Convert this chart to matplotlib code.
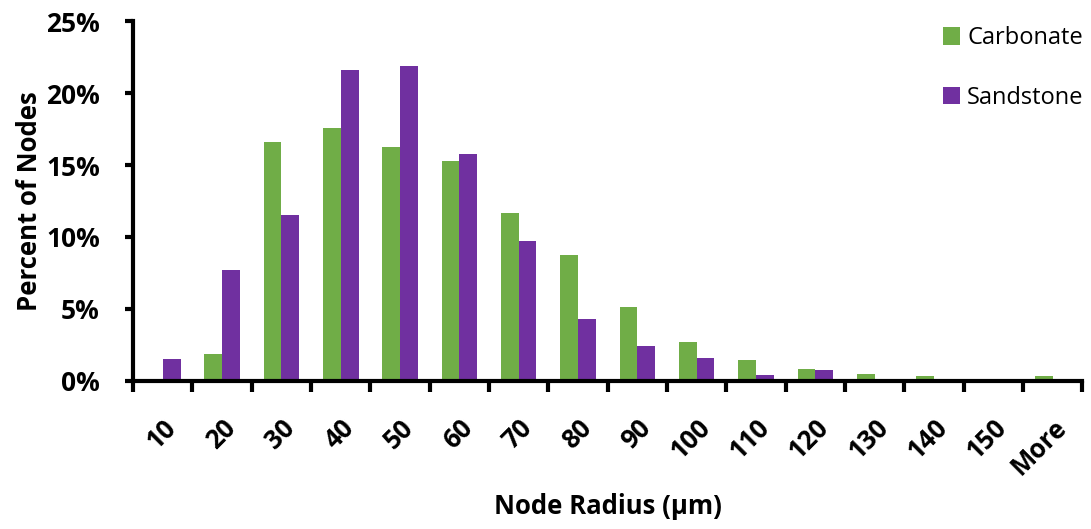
import numpy as np
import matplotlib.pyplot as plt
from matplotlib.ticker import FuncFormatter
from matplotlib.transforms import ScaledTranslation

plt.rcParams['font.family'] = ['Open Sans', 'DejaVu Sans']

# data (percent of nodes per radius bin)
bins = ['10', '20', '30', '40', '50', '60', '70', '80', '90', '100',
        '110', '120', '130', '140', '150', 'More']
carbonate = [0.0, 1.9, 16.6, 17.6, 16.25, 15.3, 11.7, 8.75, 5.1, 2.7,
             1.45, 0.85, 0.48, 0.33, 0.14, 0.33]
sandstone = [1.5, 7.7, 11.5, 21.6, 21.9, 15.8, 9.7, 4.3, 2.4, 1.6,
             0.4, 0.76, 0.14, 0.05, 0.03, 0.14]

green = '#70AD47'
purple = '#7030A0'

fig = plt.figure(figsize=(10.91, 5.29), dpi=100)
ax = fig.add_axes([0.122, 0.280, 0.870, 0.680])

x = np.arange(len(bins))
w = 0.30
ax.bar(x - w / 2, carbonate, w, color=green, label='Carbonate')
ax.bar(x + w / 2, sandstone, w, color=purple, label='Sandstone')

ax.set_xlim(-0.5, len(bins) - 0.5)
ax.set_ylim(0, 25)
ax.set_yticks(np.arange(0, 26, 5))
ax.yaxis.set_major_formatter(FuncFormatter(lambda v, p: f'{v:.0f}%'))

# categories labelled at centres, ticks at the boundaries
ax.set_xticks(x)
ax.set_xticklabels(bins, rotation=45, ha='right', rotation_mode='anchor',
                   fontsize=18.5, fontweight='bold')
shift = ScaledTranslation(-6 / 100, 0, fig.dpi_scale_trans)
for t in ax.get_xticklabels():
    t.set_transform(t.get_transform() + shift)
ax.set_xticks(np.arange(-0.5, len(bins)), minor=True)
ax.tick_params(axis='x', which='major', length=0, pad=24)
ax.tick_params(axis='x', which='minor', length=8, width=3, direction='out')
ax.tick_params(axis='y', length=6, width=3, direction='out', labelsize=19, pad=18)
for t in ax.get_yticklabels():
    t.set_fontweight('bold')

for s in ['top', 'right']:
    ax.spines[s].set_visible(False)
for s in ['left', 'bottom']:
    ax.spines[s].set_linewidth(3)

ax.set_ylabel('Percent of Nodes', fontsize=18.5, fontweight='bold', labelpad=2)
ax.set_xlabel('Node Radius (µm)', fontsize=18.5, fontweight='bold', labelpad=9)

ax.legend(loc='upper right', bbox_to_anchor=(1.024, 1.045), frameon=False,
          fontsize=17, labelspacing=1.5, handlelength=0.75, handleheight=0.75,
          handletextpad=0.3)

fig.savefig('out.png', dpi=100)
